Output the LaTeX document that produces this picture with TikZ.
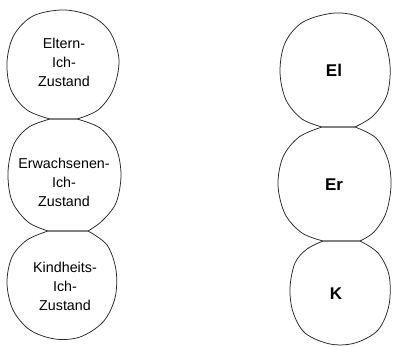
\documentclass[tikz,border=0pt]{standalone}
\usepackage{fontspec}
\setmainfont{Liberation Sans}
\begin{document}
\begin{tikzpicture}[x=1pt,y=-1pt,
  blob/.style={draw=black!85,line width=0.75pt,line join=round},
  label/.style={align=center,font=\fontsize{14.3}{19}\selectfont,inner sep=0pt},
  short/.style={font=\fontsize{17}{20}\selectfont\bfseries,inner sep=0pt}]
\useasboundingbox (0,0) rectangle (393,347);

% left column: the three ego states written out; neighbours share a flat seam
\draw[blob] plot[smooth,tension=0.55] coordinates {(77,119) (98,110) (113,90) (119,60) (110,32) (91,16) (63,10) (33,16) (14,35) (7,62) (11,90) (27,110) (50,119)} -- cycle;
\draw[blob] plot[smooth,tension=0.55] coordinates {(77,119) (100,128) (116,148) (121,175) (116,203) (102,221) (88,231)}
  -- plot[smooth,tension=0.55] coordinates {(48,231) (28,222) (12,201) (8,172) (14,144) (29,127) (50,119)} -- cycle;
\draw[blob] plot[smooth,tension=0.55] coordinates {(88,231) (107,245) (116,270) (115,298) (103,322) (80,337) (55,339) (30,330) (13,310) (7,283) (12,257) (27,240) (48,231)} -- cycle;

\node[label] (eltern) at (64,62) {Eltern-\\Ich-\\Zustand};
\node[label] (erw) at (64,182) {Erwachsenen-\\Ich-\\Zustand};
\node[label] (kind) at (65,286) {Kindheits-\\Ich-\\Zustand};

% right column: the abbreviated ego states
\draw[blob] plot[smooth,tension=0.55] coordinates {(355,127) (373,116) (387,95) (390,65) (382,35) (362,18) (335,13) (303,22) (285,43) (280,72) (286,100) (302,119) (322,127)} -- cycle;
\draw[blob] plot[smooth,tension=0.55] coordinates {(355,127) (376,138) (388,160) (391,186) (386,213) (374,232) (360,241)}
  -- plot[smooth,tension=0.55] coordinates {(323,241) (302,233) (285,214) (278,185) (283,157) (299,137) (322,127)} -- cycle;
\draw[blob] plot[smooth,tension=0.55] coordinates {(360,241) (378,253) (389,275) (389,305) (378,330) (355,343) (330,344) (305,333) (293,312) (290,288) (295,263) (307,249) (323,241)} -- cycle;

\node[short] (el) at (334,70) {El};
\node[short] (er) at (334,185) {Er};
\node[short] (k) at (336,294) {K};
\end{tikzpicture}
\end{document}
